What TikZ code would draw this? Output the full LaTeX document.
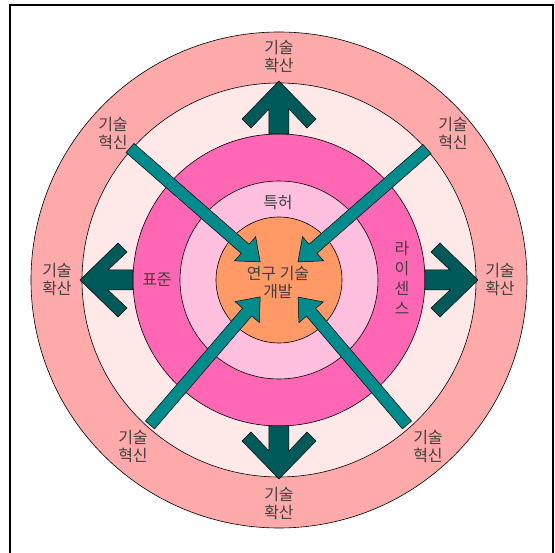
\documentclass[tikz,border=0pt]{standalone}
\usepackage{fontspec}
\newfontfamily\kr{Noto Sans CJK KR}
\usetikzlibrary{positioning, calc}
\definecolor{cring}{HTML}{FFAAAA}
\definecolor{cpale}{HTML}{FFE8E8}
\definecolor{chot}{HTML}{FF66B3}
\definecolor{clight}{HTML}{FFC0E0}
\definecolor{corange}{HTML}{FF9966}
\definecolor{cdark}{HTML}{005A5A}
\definecolor{cteal}{HTML}{008C8C}
\definecolor{ctext}{HTML}{404040}
\tikzset{
  every picture/.style={x=1pt, y=1pt, line width=0.6pt},
  disc/.style={draw=black, fill=#1},
  outarrow/.style={draw=black, fill=cdark, line width=0.5pt},
  inarrow/.style={draw=black, fill=cteal, line width=0.5pt},
  lbl/.style={font=\kr\fontsize{16}{18}\selectfont, text=ctext, align=center, inner sep=0pt},
  pageframe/.style={line width=1.6pt},
}

\begin{document}
\begin{tikzpicture}
  \useasboundingbox (-279,-273) rectangle (276,280);
  \coordinate (c) at (0,0);
  % page frame, open at the bottom
  \draw[pageframe] (-269,-290) -- (-269,275) -- (274,275) -- (274,-290);
  % rings, outside in
  \draw[disc=cring] (c) circle (248pt);
  \draw[disc=cpale] (c) circle (197pt);
  \draw[disc=chot] (c) circle (146pt);
  \draw[disc=clight] (c) circle (99pt);
  \draw[disc=corange] (c) circle (63pt);
  % spreading out: four fat arrows
  \foreach \a in {0,90,180,270} {
    \draw[outarrow, rotate=\a] (146,-10) -- (171,-10) -- (152,-28) -- (161,-37) -- (199,0)
      -- (161,37) -- (152,28) -- (171,10) -- (146,10) -- cycle;
  }
  % innovation: four thin arrows to the core
  \coordinate (ul) at (-149,132);
  \coordinate (ur) at (148,131);
  \coordinate (ll) at (-129,-145);
  \coordinate (lr) at (128,-145);
  \foreach \p/\a/\l in {ul/-41.2/173, ur/221.2/171.5, ll/49.3/169, lr/130.4/168} {
    \draw[inarrow, shift={(\p)}, rotate=\a] (0,-6) -- (\l-20,-6) -- (\l-20,-16) -- (\l,0)
      -- (\l-20,16) -- (\l-20,6) -- (0,6) -- cycle;
  }
  % texts
  \node[lbl] (core) at (-1,-3) {연구 기술\\개발};
  \node[lbl] (patent) at (-1,77) {특허};
  \node[lbl] (std) at (-122,0) {표준};
  \node[lbl, font=\kr\fontsize{16}{20}\selectfont] (lic) at (123,2) {라\\이\\센\\스};
  \node[lbl] (sptop) at (0,223) {기술\\확산};
  \node[lbl] (spbot) at (0,-224) {기술\\확산};
  \node[lbl] (spleft) at (-222,0) {기술\\확산};
  \node[lbl] (spright) at (221,0) {기술\\확산};
  \node[lbl] (inul) at (-166,146) {기술\\혁신};
  \node[lbl] (inur) at (174,146) {기술\\혁신};
  \node[lbl] (inll) at (-146,-167) {기술\\혁신};
  \node[lbl] (inlr) at (149,-167) {기술\\혁신};
\end{tikzpicture}
\end{document}
